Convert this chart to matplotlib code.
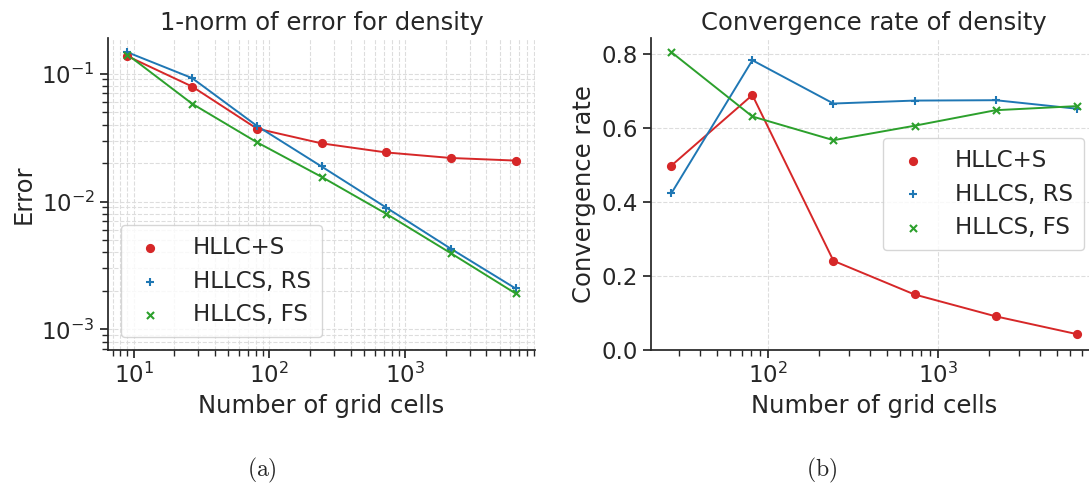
import matplotlib
matplotlib.use("Agg")
import matplotlib.pyplot as plt
import seaborn as sns

sns.set_theme(style="ticks")
plt.rcParams["font.family"] = ["DejaVu Sans"]
plt.rcParams["mathtext.fontset"] = "cm"

# Grid sizes (powers of three)
cells = [9, 27, 81, 243, 729, 2187, 6561]
cells_rate = [27, 81, 243, 729, 2187, 6561]

# 1-norm of the density error
err_hllc_s = [0.137, 0.0793, 0.0372, 0.0285, 0.0242, 0.0219, 0.0209]
err_hllcs_rs = [0.147, 0.0923, 0.0391, 0.0188, 0.00897, 0.00427, 0.00209]
err_hllcs_fs = [0.141, 0.0582, 0.0291, 0.0156, 0.00802, 0.00394, 0.00191]

# Observed convergence rate between successive grids
rate_hllc_s = [0.498, 0.689, 0.241, 0.150, 0.091, 0.043]
rate_hllcs_rs = [0.423, 0.783, 0.666, 0.674, 0.675, 0.652]
rate_hllcs_fs = [0.805, 0.631, 0.567, 0.606, 0.648, 0.659]

labels = ["HLLC+S", "HLLCS, RS", "HLLCS, FS"]
colors = ["#d62728", "#1f77b4", "#2ca02c"]
markers = ["o", "+", "x"]

W, H = 1089, 492
fig = plt.figure(figsize=(W / 100, H / 100), dpi=100)
ax1 = fig.add_axes([108 / W, (H - 350) / H, 427 / W, 312 / H])
ax2 = fig.add_axes([651 / W, (H - 350) / H, 446 / W, 312 / H])

grid_kw = dict(color="#dddddd", linestyle="--", linewidth=0.8)
tick_fs = 16.5
label_fs = 17.5
legend_fs = 16.5
legend_kw = dict(fontsize=legend_fs, handlelength=1.6, handletextpad=1.05,
                 borderpad=0.5, labelspacing=0.45, borderaxespad=0.55)


def draw(ax, x, series):
    for ys, lab, c, m in zip(series, labels, colors, markers):
        ax.plot(x, ys, color=c, linewidth=1.4, zorder=3)
        ax.scatter(x, ys, color=c, marker=m, s=26, linewidths=1.5,
                   label=lab, zorder=4)


draw(ax1, cells, [err_hllc_s, err_hllcs_rs, err_hllcs_fs])
ax1.set_xscale("log")
ax1.set_yscale("log")
ax1.set_ylim(6.9e-4, 0.19)
ax1.grid(True, which="both", **grid_kw)
ax1.set_axisbelow(True)
ax1.set_title("1-norm of error for density", fontsize=label_fs)
ax1.set_xlabel("Number of grid cells", fontsize=label_fs)
ax1.set_ylabel("Error", fontsize=label_fs)
ax1.legend(loc="lower left", **legend_kw)

draw(ax2, cells_rate, [rate_hllc_s, rate_hllcs_rs, rate_hllcs_fs])
ax2.set_xscale("log")
ax2.grid(True, which="major", **grid_kw)
ax2.set_axisbelow(True)
ax2.set_title("Convergence rate of density", fontsize=label_fs)
ax2.set_xlabel("Number of grid cells", fontsize=label_fs)
ax2.set_ylabel("Convergence rate", fontsize=label_fs)
ax2.set_yticks([0.0, 0.2, 0.4, 0.6, 0.8])
ax2.legend(loc="center right", **legend_kw)

for ax in (ax1, ax2):
    ax.tick_params(labelsize=tick_fs, color="#262626")
    sns.despine(ax=ax)
    for s in ("left", "bottom"):
        ax.spines[s].set_color("#262626")

fig.text(262 / W, 1 - 470 / H, r"$\mathrm{(a)}$", fontsize=17,
         ha="center", va="center")
fig.text(822 / W, 1 - 470 / H, r"$\mathrm{(b)}$", fontsize=17,
         ha="center", va="center")

fig.savefig("out.png", dpi=100)
